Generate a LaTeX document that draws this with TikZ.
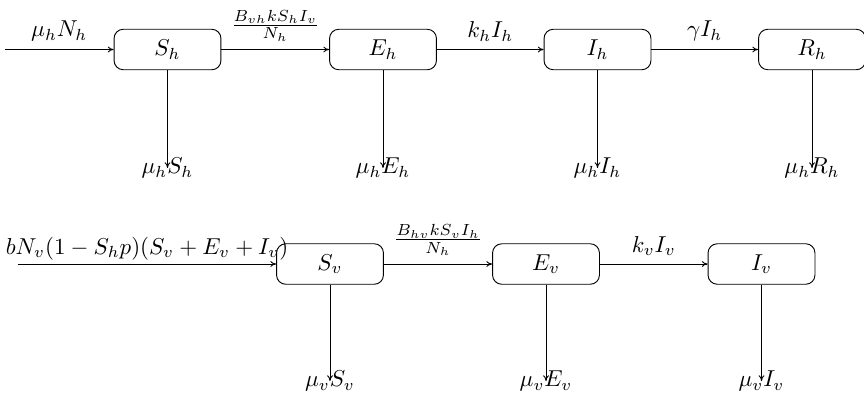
\documentclass[tikz,border=0pt]{standalone}
\usetikzlibrary{arrows.meta}
\begin{document}
\begin{tikzpicture}[x=0.435pt,y=-0.435pt,
  comp/.style={draw, rounded corners=4pt, minimum width=46.5pt, minimum height=17.6pt, inner sep=0pt},
  flow/.style={->, >={To[length=2.5pt,width=2.5pt]}, line width=0.4pt},
  lab/.style={inner sep=0pt}]
\useasboundingbox (0,0) rectangle (864,394);
% top row
\node[comp] (Sh) at (167.5,49.5) {$S_h$};
\node[comp] (Eh) at (383,49.5) {$E_h$};
\node[comp] (Ih) at (597.5,49.5) {$I_h$};
\node[comp] (Rh) at (812,49.5) {$R_h$};
\coordinate (inh) at (5,49.5);
\node[lab] (lSh) at (167.5,168) {$\mu_h S_h$};
\node[lab] (lEh) at (383,168) {$\mu_h E_h$};
\node[lab] (lIh) at (597.5,168) {$\mu_h I_h$};
\node[lab] (lRh) at (812,168) {$\mu_h R_h$};
\draw[flow] (inh) -- node[above] {$\mu_h N_h$} (Sh);
\draw[flow] (Sh) -- node[above] {$\frac{B_{vh}kS_hI_v}{N_h}$} (Eh);
\draw[flow] (Eh) -- node[above] {$k_hI_h$} (Ih);
\draw[flow] (Ih) -- node[above] {$\gamma I_h$} (Rh);
\draw[flow] (Sh) -- (lSh.center);
\draw[flow] (Eh) -- (lEh.center);
\draw[flow] (Ih) -- (lIh.center);
\draw[flow] (Rh) -- (lRh.center);
% bottom row
\node[comp] (Sv) at (330,264) {$S_v$};
\node[comp] (Ev) at (546,264) {$E_v$};
\node[comp] (Iv) at (761.5,264) {$I_v$};
\coordinate (inv) at (18,264);
\node[lab] (lSv) at (330,381) {$\mu_v S_v$};
\node[lab] (lEv) at (546,381) {$\mu_v E_v$};
\node[lab] (lIv) at (761.5,381) {$\mu_v I_v$};
\draw[flow] (inv) -- node[above, inner sep=1.5pt] {$bN_v(1-S_hp)(S_v+E_v+I_v)$} (Sv);
\draw[flow] (Sv) -- node[above] {$\frac{B_{hv}kS_vI_h}{N_h}$} (Ev);
\draw[flow] (Ev) -- node[above] {$k_vI_v$} (Iv);
\draw[flow] (Sv) -- (lSv.center);
\draw[flow] (Ev) -- (lEv.center);
\draw[flow] (Iv) -- (lIv.center);
\end{tikzpicture}
\end{document}
